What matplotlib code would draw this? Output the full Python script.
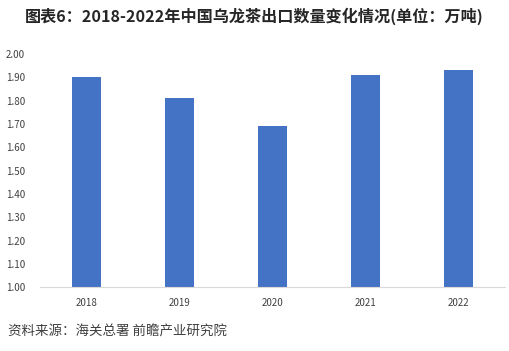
import matplotlib.pyplot as plt

plt.rcParams['font.family'] = ['Noto Sans CJK SC', 'DejaVu Sans']

years = ['2018', '2019', '2020', '2021', '2022']
volumes = [1.90, 1.81, 1.69, 1.91, 1.93]
y_ticks = [1.00, 1.10, 1.20, 1.30, 1.40, 1.50, 1.60, 1.70, 1.80, 1.90, 2.00]

fig = plt.figure(figsize=(5.09, 3.51), dpi=100)
ax = fig.add_axes([0.079, 0.182, 0.913, 0.664])

x = range(len(years))
ax.bar(x, volumes, width=0.31, color='#4472C4', zorder=2)

ax.set_xlim(-0.5, len(years) - 0.5)
ax.set_ylim(1.0, 2.0)
ax.set_xticks(list(x))
ax.set_xticklabels(years)
ax.set_yticks(y_ticks)
ax.set_yticklabels([f'{v:.2f}' for v in y_ticks])
ax.tick_params(axis='both', length=0, labelsize=7, colors='#404040', pad=8)
ax.tick_params(axis='y', pad=11)

for side in ['top', 'right', 'left']:
    ax.spines[side].set_visible(False)
ax.spines['bottom'].set_color('#d9d9d9')

fig.text(0.5, 0.955, '图表6：2018-2022年中国乌龙茶出口数量变化情况(单位：万吨)',
         ha='center', va='center', fontsize=11.6, fontweight='bold', color='#262626')
fig.text(0.016, 0.054, '资料来源：海关总署 前瞻产业研究院',
         ha='left', va='center', fontsize=9.7, color='#404040')

fig.savefig('out.png', dpi=100)
